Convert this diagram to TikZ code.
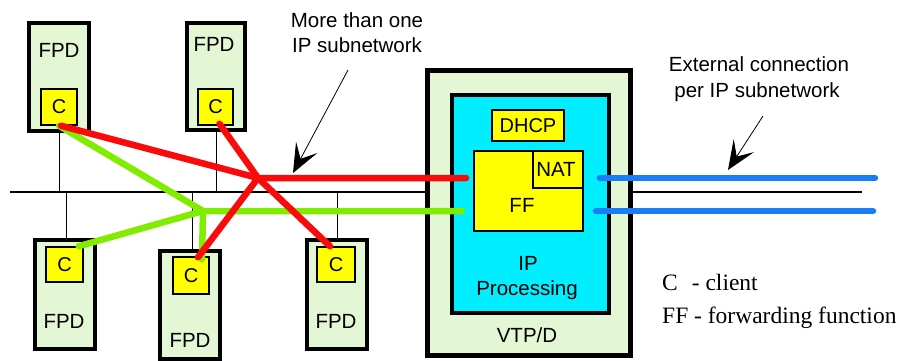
\documentclass[tikz,border=0pt]{standalone}
\usepackage{fontspec}
\setmainfont{Liberation Serif}
\setsansfont{Liberation Sans}
\usetikzlibrary{arrows.meta}
\definecolor{palegreen}{RGB}{228,247,212}
\definecolor{yel}{RGB}{255,255,0}
\definecolor{cyanbox}{RGB}{0,238,255}
\definecolor{redline}{RGB}{250,10,10}
\definecolor{greenline}{RGB}{128,236,0}
\definecolor{blueline}{RGB}{25,125,245}
\begin{document}
\begin{tikzpicture}[x=1pt,y=-1pt,
  fpdbox/.style={draw=black, line width=4.5pt, fill=palegreen, inner sep=0pt},
  cbox/.style={draw=black, line width=1.5pt, fill=yel, inner sep=0pt,
    font=\sffamily\fontsize{20}{24}\selectfont},
  lbl/.style={font=\sffamily\fontsize{20.5}{24}\selectfont, inner sep=0pt, anchor=base},
  legend/.style={font=\rmfamily\fontsize{23.5}{28}\selectfont, inner sep=0pt, anchor=base west},
  bus/.style={draw=black, line width=1.3pt},
  drop/.style={draw=black, line width=0.9pt},
  redc/.style={draw=redline, line width=6.5pt, line cap=round},
  greenc/.style={draw=greenline, line width=6.5pt, line cap=round},
  bluec/.style={draw=blueline, line width=6.5pt, line cap=round},
  pointer/.style={draw=black, line width=0.8pt,
    -{Stealth[length=29pt,width=24pt,inset=13pt]}}
]
\useasboundingbox (0,0) rectangle (900,361);
\fill[white] (0,0) rectangle (900,361);

% bus
\coordinate (busL) at (10,192);
\coordinate (busR) at (862,192);
\draw[bus] (busL) -- (busR);

% FPD boxes
\node[fpdbox, minimum width=60pt, minimum height=108pt] (f1) at (59,77) {};
\node[fpdbox, minimum width=58pt, minimum height=107pt] (f2) at (216,76.5) {};
\node[fpdbox, minimum width=60pt, minimum height=109pt] (f3) at (65,294.5) {};
\node[fpdbox, minimum width=60pt, minimum height=108pt] (f4) at (190,305) {};
\node[fpdbox, minimum width=60pt, minimum height=109pt] (f5) at (337,294.5) {};

% drops to bus
\coordinate (d1) at (59,192);
\coordinate (d2) at (216,192);
\coordinate (d3) at (66,192);
\coordinate (d4) at (192,192);
\coordinate (d5) at (337,192);
\draw[drop] (f1.south) -- (d1);
\draw[drop] (f2.south) -- (d2);
\draw[drop] (d3) -- (66,240);
\draw[drop] (d4) -- (192,251);
\draw[drop] (d5) -- (f5.north);

% FPD labels
\node[lbl] (t1) at (59,58) {FPD};
\node[lbl] (t2) at (214,52) {FPD};
\node[lbl] (t3) at (64,328) {FPD};
\node[lbl] (t4) at (190,347) {FPD};
\node[lbl] (t5) at (336,328) {FPD};

% C boxes
\node[cbox, minimum width=36pt, minimum height=36pt] (c1) at (59,107) {C};
\node[cbox, minimum width=35pt, minimum height=36pt] (c2) at (215.5,107) {C};
\node[cbox, minimum width=37pt, minimum height=35pt] (c3) at (64.5,264.5) {C};
\node[cbox, minimum width=36pt, minimum height=37pt] (c4) at (191,275.5) {C};
\node[cbox, minimum width=38pt, minimum height=35pt] (c5) at (336,264.5) {C};

% VTP/D
\node[fpdbox, minimum width=203pt, minimum height=285pt] (vtp) at (529,213) {};
\node[draw=black, line width=4.5pt, fill=cyanbox, inner sep=0pt,
      minimum width=157pt, minimum height=218pt] (ipp) at (530.5,204) {};
\node[cbox, minimum width=72pt, minimum height=31pt] (dhcp) at (528,125.5) {DHCP};
\node[cbox, minimum width=109pt, minimum height=80pt] (ff) at (528.5,191) {};
\node[cbox, minimum width=50pt, minimum height=37pt] (nat) at (558,169.5) {};
\node[lbl] (nattxt) at (556,176) {NAT};
\node[lbl] (fftxt) at (522,212) {FF};
\node[lbl] (iptxt) at (528,270) {IP};
\node[lbl] (proctxt) at (527,295) {Processing};
\node[lbl] (vtptxt) at (527,342) {VTP/D};

% connections
\coordinate (rj) at (258,178);
\coordinate (gj) at (203,211);
\coordinate (rin) at (466,178);
\coordinate (gin) at (462,211);
\draw[greenc] (c1.south) -- (gj);
\draw[greenc] ([xshift=-5pt]c3.north east) -- (gj);
\draw[greenc] ([xshift=11pt,yshift=-3pt]c4.north) -- (gj) -- (gin);
\draw[redc] ([xshift=2pt]c1.south) -- (rj);
\draw[redc] ([xshift=4pt,yshift=2pt]c2.south) -- (rj) -- (rin);
\draw[redc] ([xshift=7pt,yshift=-1pt]c4.north) -- (rj);
\draw[redc] ([xshift=-6pt]c5.north) -- (rj);

% external
\coordinate (b1s) at (600,178);
\coordinate (b1e) at (875,178);
\coordinate (b2s) at (596,211);
\coordinate (b2e) at (873,211);
\draw[bluec] (b1s) -- (b1e);
\draw[bluec] (b2s) -- (b2e);

% annotations
\node[lbl] (m1) at (357,28) {More than one};
\node[lbl] (m2) at (357,53) {IP subnetwork};
\coordinate (a1s) at (348,70);
\coordinate (a1e) at (293,173);
\draw[pointer] (a1s) -- (a1e);

\node[lbl] (e1) at (759,72) {External connection};
\node[lbl] (e2) at (757,97) {per IP subnetwork};
\coordinate (a2s) at (763,116);
\coordinate (a2e) at (728,170);
\draw[pointer] (a2s) -- (a2e);

\node[legend] (lc) at (662,290) {C\hspace{14pt}- client};
\node[legend] (lf) at (662,323) {FF - forwarding function};
\end{tikzpicture}
\end{document}
